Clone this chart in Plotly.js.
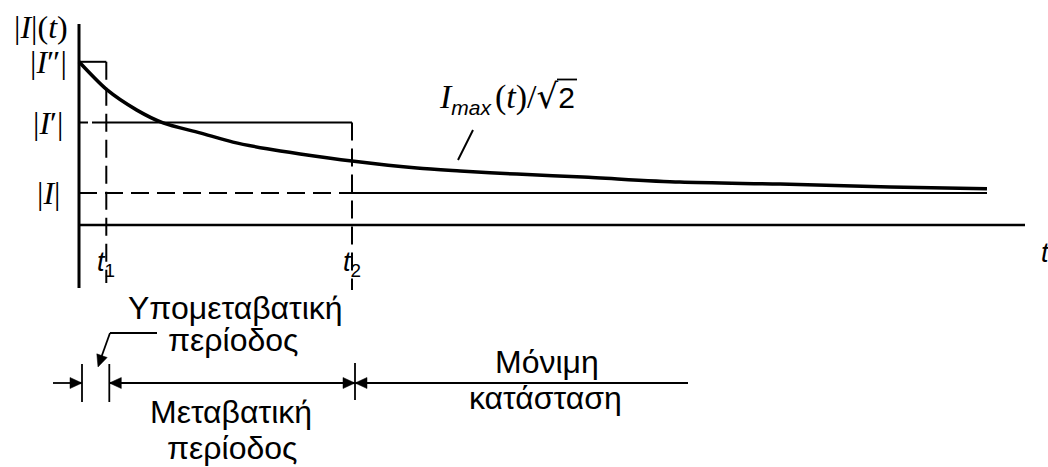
<!DOCTYPE html>
<html>
<head>
<meta charset="utf-8">
<script src="https://cdn.plot.ly/plotly-3.0.1.min.js"></script>
<style>html,body{margin:0;padding:0;background:#fff}</style>
</head>
<body>
<div id="chart" style="width:1048px;height:467px"></div>
<script>
// RMS envelope of a short-circuit current, I_max(t)/sqrt(2), decaying from the
// subtransient value through the transient value towards the steady state.
const timeSamples    = [0, 1.03, 2.12, 3.08, 4.43, 5.64, 6.89, 8.10, 10.0, 12.38, 13.96, 16.04, 18.46, 22.01, 25.68, 29.71, 33.26];
const currentSamples = [5.1, 4.22, 3.59, 3.19, 2.88, 2.59, 2.38, 2.22, 2.0, 1.78, 1.69, 1.59, 1.50, 1.34, 1.28, 1.19, 1.13];

// Current levels: subtransient |I''|, transient |I'|, steady-state |I|
const levelValues = [5.1, 3.2, 1.0];
const levelLabels = ['|<i>I</i>″|', '|<i>I</i>′|', '|<i>I</i>|'];

// Boundaries between the periods
const markerTimes  = [1.0, 10.0];
const markerLabels = ['<i>t</i><sub>1</sub>', '<i>t</i><sub>2</sub>'];

// Period captions (two lines each)
const subtransientCaption = ['Υπομεταβατική', 'περίοδος'];
const transientCaption    = ['Μεταβατική', 'περίοδος'];
const steadyCaption       = ['Μόνιμη', 'κατάσταση'];

const axisLabelY = '|<i>I</i>|(<i>t</i>)';
const axisLabelX = '<i>t</i>';
const curveLabel =
  '<i>I</i>' +
  '<sub><span style="font-family:\'Liberation Sans\';font-size:21px"><i>max</i></span></sub>' +
  '<span style="font-size:16px"> </span>(<i>t</i>)/' +
  '<span style="font-family:\'DejaVu Sans\';font-size:34px">√</span>' +
  '<span style="font-family:\'Liberation Sans\';font-size:30px">2</span>';

// ---- page geometry: the axes fill the whole figure ----
const W = 1048, H = 467;
const X0 = 79, Y0 = 225, PX_T = 27.3, PX_I = 32;
const tAt  = px => (px - X0) / PX_T;
const iAt  = py => (Y0 - py) / PX_I;
const pxOf = t => X0 + t * PX_T;
const pyOf = v => Y0 - v * PX_I;

const [I2, I1, I0] = levelValues;
const [t1, t2] = markerTimes;
const tEnd = timeSamples[timeSamples.length - 1];

const shapes = [];
const BLACK = '#000';
function seg(px0, py0, px1, py1, width, dash) {
  shapes.push({type: 'line', xref: 'x', yref: 'y',
    x0: tAt(px0), y0: iAt(py0), x1: tAt(px1), y1: iAt(py1),
    line: {color: BLACK, width: width, dash: dash || 'solid'}});
}
function head(tipX, tipY, dx, dy, len, half) {
  len = len || 12; half = half || 5.5;
  const n = Math.hypot(dx, dy); dx /= n; dy /= n;
  const bx = tipX - dx * len, by = tipY - dy * len;
  const ax = bx - dy * half, ay = by + dx * half;
  const cx = bx + dy * half, cy = by - dx * half;
  shapes.push({type: 'path', xref: 'x', yref: 'y',
    path: `M ${tAt(tipX)},${iAt(tipY)} L ${tAt(ax)},${iAt(ay)} L ${tAt(cx)},${iAt(cy)} Z`,
    fillcolor: BLACK, line: {color: BLACK, width: 0.5}});
}

// axes
seg(X0, Y0, 1025, Y0, 2.5);
seg(X0, 288, X0, 24, 3);

// level and marker guides
const DASH = '18px,8px';
seg(pxOf(0), pyOf(I2), pxOf(t1), pyOf(I2), 2);
seg(pxOf(t1), pyOf(I2), pxOf(t1), 283, 2, DASH);
seg(pxOf(0), pyOf(I1), pxOf(t2), pyOf(I1), 2, '9px,4px,400px');
seg(pxOf(t2), pyOf(I1), pxOf(t2), 290, 2, DASH);
seg(pxOf(0), pyOf(I0), pxOf(t2), pyOf(I0), 2, DASH);
seg(pxOf(t2), pyOf(I0), pxOf(tEnd), pyOf(I0), 2);

// leader to the curve label, and the vinculum of its square root
seg(473, 130, 458, 160, 2);
seg(557, 79.5, 577, 79.5, 1.8);

// period dimension line
const ROW = 383, SH = 3;
const a0 = pxOf(0) + SH, a1 = pxOf(t1) + SH, a2 = pxOf(t2) + SH;
seg(53, ROW, a0, ROW, 1.8);          head(a0, ROW, 1, 0);
seg(a0, 364, a0, 402, 1.8);
seg(a1, 364, a1, 402, 1.8);
seg(a1, ROW, a2, ROW, 1.8);          head(a1, ROW, -1, 0); head(a2, ROW, 1, 0);
seg(a2, 363, a2, 400, 1.8);
seg(a2, ROW, 688, ROW, 1.8);         head(a2, ROW, -1, 0);

// pointer to the subtransient interval
seg(157, 333, 110, 333, 1.8);
seg(110, 333, 101, 358, 1.8);
head(98, 367, -12, 34);

// ---- text ----
const SERIF = 'Liberation Serif', SANS = 'Liberation Sans';
const ann = [];
function txt(text, px, py, size, family, xanchor) {
  ann.push({text: text, x: tAt(px), y: iAt(py), xref: 'x', yref: 'y',
    xanchor: xanchor || 'center', yanchor: 'middle', showarrow: false,
    font: {family: family, size: size, color: BLACK}});
}
txt(axisLabelY, 41, 27, 32, SERIF);
levelLabels.forEach((lab, k) => txt(lab, 48, pyOf(levelValues[k]), 32, SERIF));
markerLabels.forEach((lab, k) => txt(lab, pxOf(markerTimes[k]), 264, 27, SANS));
txt(axisLabelX, 1039, 253, 27, SANS, 'left');
txt(curveLabel, 437, 97, 34, SERIF, 'left');

txt(subtransientCaption[0], 235, 308, 32, SANS);
txt(subtransientCaption[1], 233, 340, 32, SANS);
txt(transientCaption[0], 231, 412, 32, SANS);
txt(transientCaption[1], 232, 448, 32, SANS);
txt(steadyCaption[0], 547, 362, 32, SANS);
txt(steadyCaption[1], 545, 398, 32, SANS);

const trace = {
  x: timeSamples, y: currentSamples, type: 'scatter', mode: 'lines',
  line: {color: BLACK, width: 3.5, shape: 'spline', smoothing: 0.8},
  hoverinfo: 'skip'
};

const hidden = {visible: false, fixedrange: true};
Plotly.newPlot('chart', [trace], {
  width: W, height: H, autosize: false,
  margin: {l: 0, r: 0, t: 0, b: 0, pad: 0},
  paper_bgcolor: '#fff', plot_bgcolor: '#fff',
  showlegend: false,
  xaxis: Object.assign({range: [tAt(0), tAt(W)]}, hidden),
  yaxis: Object.assign({range: [iAt(H), iAt(0)]}, hidden),
  shapes: shapes, annotations: ann
}, {staticPlot: true});
</script>
</body>
</html>
